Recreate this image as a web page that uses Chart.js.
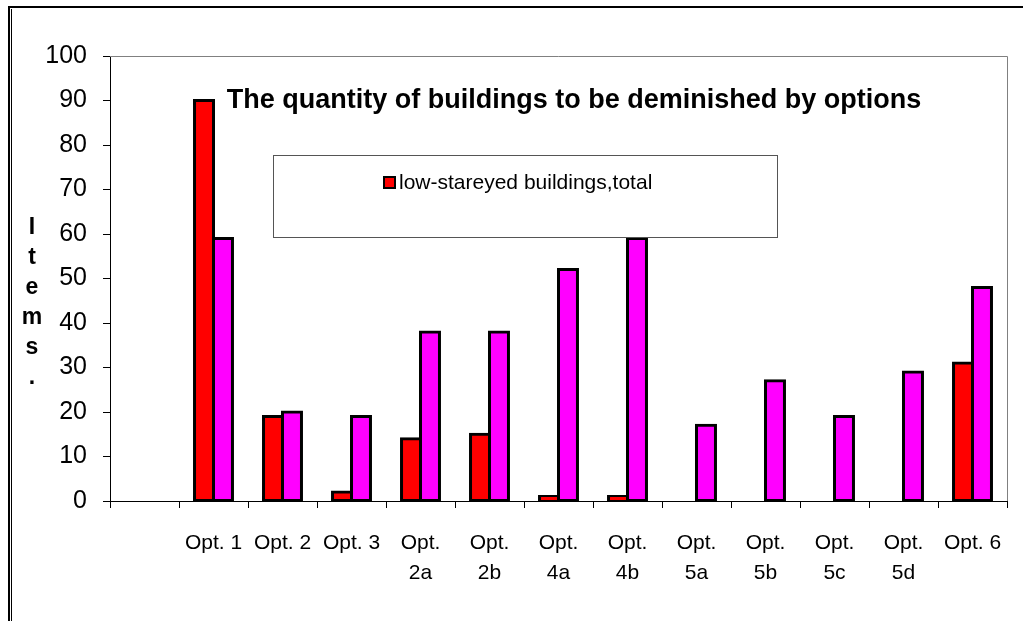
<!DOCTYPE html>
<html>
<head>
<meta charset="utf-8">
<script src="https://cdn.jsdelivr.net/npm/chart.js@4"></script>
<style>
  body { margin: 0; background: #fff; }
  canvas { display: block; }
</style>
</head>
<body>
<canvas id="buildingsChart" width="1023" height="621"></canvas>
<script>
const categories = ['', 'Opt. 1', 'Opt. 2', 'Opt. 3', ['Opt.', '2a'], ['Opt.', '2b'], ['Opt.', '4a'], ['Opt.', '4b'],
  ['Opt.', '5a'], ['Opt.', '5b'], ['Opt.', '5c'], ['Opt.', '5d'], 'Opt. 6'];
const lowStoreyed = [null, 90, 19, 2, 14, 15, 1, 1, null, null, null, null, 31];
const secondSeries = [null, 59, 20, 19, 38, 38, 52, 59, 17, 27, 19, 29, 48];
const yTicks = [0, 10, 20, 30, 40, 50, 60, 70, 80, 90, 100];

const chartTitle = 'The quantity of buildings to be deminished by options';
const axisTitle = ['I', 't', 'e', 'm', 's', '.'];
const fontName = '"Liberation Sans", Arial, sans-serif';

// frame, title, legend box and the stacked "Items." text
const decorations = {
  id: 'decorations',
  afterDatasetsDraw(chart) {
    const ctx = chart.ctx;
    const area = chart.chartArea;
    ctx.save();

    // plot area border (grey, top & right)
    ctx.strokeStyle = '#808080';
    ctx.lineWidth = 1;
    ctx.beginPath();
    ctx.moveTo(area.left, area.top + 0.5);
    ctx.lineTo(area.right + 0.5, area.top + 0.5);
    ctx.lineTo(area.right + 0.5, area.bottom);
    ctx.stroke();

    // title
    ctx.fillStyle = '#000';
    ctx.font = 'bold 27px ' + fontName;
    ctx.textAlign = 'center';
    ctx.textBaseline = 'middle';
    ctx.fillText(chartTitle, 574, 101);

    // legend box
    ctx.fillStyle = '#fff';
    ctx.fillRect(273, 155, 504, 82);
    ctx.strokeStyle = '#555';
    ctx.strokeRect(273.5, 155.5, 504, 82);
    const ds = chart.data.datasets[0];
    ctx.fillStyle = ds.backgroundColor;
    ctx.fillRect(384, 177, 11, 11);
    ctx.strokeStyle = '#000';
    ctx.lineWidth = 2;
    ctx.strokeRect(384, 177, 11, 11);
    ctx.fillStyle = '#000';
    ctx.font = '21px ' + fontName;
    ctx.textAlign = 'left';
    ctx.fillText(ds.label, 399, 183);

    // y axis title, one letter per line
    ctx.font = 'bold 23px ' + fontName;
    ctx.textAlign = 'center';
    axisTitle.forEach((ch, i) => {
      ctx.fillText(ch, 32, 228 + i * 30);
    });

    // outer frame
    ctx.fillStyle = '#000';
    ctx.fillRect(8, 6, 1015, 2);
    ctx.fillRect(8, 6, 2, 615);
    ctx.fillRect(11, 9, 1, 612);
    ctx.restore();
  }
};

const ctx = document.getElementById('buildingsChart').getContext('2d');

const buildingsChart = new Chart(ctx, {
  type: 'bar',
  data: {
    labels: categories,
    datasets: [{
      label: 'low-stareyed buildings,total',
      data: lowStoreyed,
      backgroundColor: '#ff0000',
      borderColor: '#000',
      borderWidth: 3,
      borderSkipped: false,
      inflateAmount: 1.5
    }, {
      label: 'Series 2',
      data: secondSeries,
      backgroundColor: '#ff00ff',
      borderColor: '#000',
      borderWidth: 3,
      borderSkipped: false,
      inflateAmount: 1.5
    }]
  },
  options: {
    responsive: false,
    animation: false,
    layout: {
      padding: { top: 56, right: 16, left: 0, bottom: 0 }
    },
    datasets: {
      bar: {
        barPercentage: 1,
        categoryPercentage: 0.55
      }
    },
    plugins: {
      legend: { display: false },
      tooltip: { enabled: false }
    },
    scales: {
      x: {
        grid: {
          offset: true,
          drawOnChartArea: false,
          color: '#000',
          tickLength: 7
        },
        border: { color: '#000', width: 1 },
        ticks: {
          color: '#000',
          autoSkip: false,
          maxRotation: 0,
          padding: 20,
          font: { family: fontName, size: 21, lineHeight: 1.43 }
        },
        afterFit: scale => { scale.height = 120; }
      },
      y: {
        min: 0,
        max: 100,
        afterBuildTicks: scale => { scale.ticks = yTicks.map(v => ({ value: v })); },
        grid: {
          drawOnChartArea: false,
          color: '#000',
          tickLength: 7
        },
        border: { color: '#000', width: 1 },
        ticks: {
          color: '#000',
          padding: 16,
          font: { family: fontName, size: 25 }
        },
        afterFit: scale => { scale.width = 110; }
      }
    }
  },
  plugins: [decorations]
});
</script>
</body>
</html>
